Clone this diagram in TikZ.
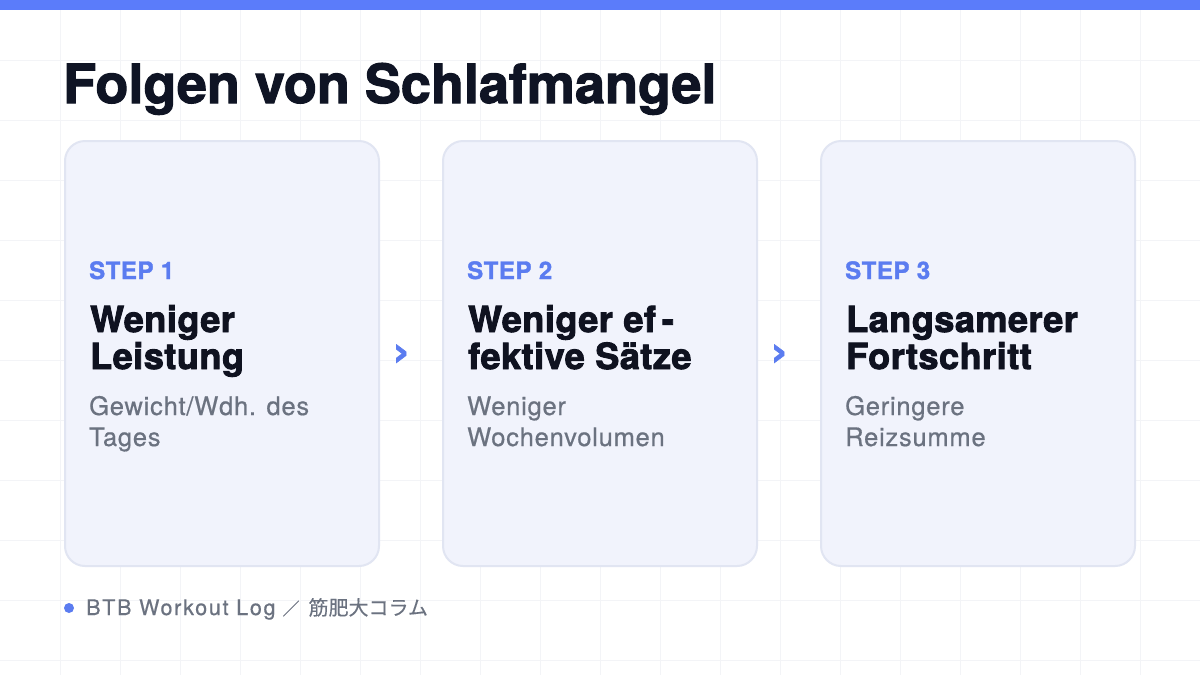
\documentclass[tikz,border=0pt]{standalone}
\usepackage{fontspec}
\setmainfont{TeX Gyre Heros}
\newfontfamily\herostitle[BoldFeatures={FakeBold=2}]{TeX Gyre Heros}
\newfontfamily\herosH[BoldFeatures={FakeBold=2.5,LetterSpace=1.5}]{TeX Gyre Heros}
\newfontfamily\herosS[BoldFeatures={FakeBold=1.5,LetterSpace=2.5}]{TeX Gyre Heros}
\newfontfamily\herosw[LetterSpace=3,FakeBold=0.6]{TeX Gyre Heros}
\newfontfamily\herosf[LetterSpace=8,FakeBold=0.5]{TeX Gyre Heros}
\newfontfamily\dejab[FakeBold=1.5]{DejaVu Sans Bold}
\newfontfamily\cjk[FakeBold=0.3]{Noto Sans CJK JP}
\definecolor{topbar}{HTML}{5B7CFA}
\definecolor{titlecol}{HTML}{0F1424}
\definecolor{headcol}{HTML}{0F1220}
\definecolor{subcol}{HTML}{6B7280}
\definecolor{stepcol}{HTML}{5B7CF0}
\definecolor{cardfill}{HTML}{F1F3FC}
\definecolor{cardline}{HTML}{E1E5F2}
\definecolor{gridcol}{HTML}{F3F4F7}
\begin{document}
\begin{tikzpicture}[x=1pt,y=-1pt,
  card/.style={draw=cardline,line width=2pt,fill=cardfill,rounded corners=20pt},
  steplabel/.style={anchor=base west,inner sep=0pt,text=stepcol,font=\herosS\bfseries\fontsize{24}{28}\selectfont},
  headline/.style={anchor=base west,inner sep=0pt,text=headcol,font=\herosH\bfseries\fontsize{36}{38}\selectfont},
  subline/.style={anchor=base west,inner sep=0pt,text=subcol,font=\herosw\fontsize{25.5}{32}\selectfont},
  chevron/.style={inner sep=0pt,text=stepcol,font=\dejab\fontsize{40}{40}\selectfont}
]
\useasboundingbox (0,0) rectangle (1200,675);
\fill[white] (0,0) rectangle (1200,675);
% grid
\foreach \gx in {60,120,...,1140} {\draw[gridcol,line width=1pt] (\gx,0) -- (\gx,675);}
\foreach \gy in {60,120,...,660} {\draw[gridcol,line width=1pt] (0,\gy) -- (1200,\gy);}
% top bar
\fill[topbar] (0,0) rectangle (1200,10);
% title
\node[anchor=base west,inner sep=0pt,text=titlecol,font=\herostitle\bfseries\fontsize{54}{60}\selectfont] (title) at (63,103) {Folgen von Schlafmangel};
% cards
\draw[card] (65,141) rectangle (379,566);
\draw[card] (443,141) rectangle (757,566);
\draw[card] (821,141) rectangle (1135,566);
% card 1
\node[steplabel] (s1) at (89,279) {STEP 1};
\node[headline] (h1a) at (90,332) {Weniger};
\node[headline] (h1b) at (90,369) {Leistung};
\node[subline] (t1a) at (89,415) {Gewicht/Wdh. des};
\node[subline] (t1b) at (89,446) {Tages};
% card 2
\node[steplabel] (s2) at (467,279) {STEP 2};
\node[headline] (h2a) at (468,332) {Weniger ef\,-};
\node[headline] (h2b) at (468,369) {fektive Sätze};
\node[subline] (t2a) at (467,415) {Weniger};
\node[subline] (t2b) at (467,446) {Wochenvolumen};
% card 3
\node[steplabel] (s3) at (845,279) {STEP 3};
\node[headline] (h3a) at (846,332) {Langsamerer};
\node[headline] (h3b) at (846,369) {Fortschritt};
\node[subline] (t3a) at (845,415) {Geringere};
\node[subline] (t3b) at (845,446) {Reizsumme};
% chevrons
\node[chevron] (a1) at (401,355) {›};
\node[chevron] (a2) at (779,355) {›};
% footer
\fill[stepcol] (69,608) circle (5);
\node[anchor=base west,inner sep=0pt,text=subcol,font=\herosf\fontsize{21.5}{24}\selectfont] (foot) at (86,615) {BTB Workout Log\hspace{7pt}{\cjk\fontsize{17}{24}\selectfont ／}\hspace{9pt}{\cjk\fontsize{20}{24}\selectfont 筋肥大コラム}};
\end{tikzpicture}
\end{document}
